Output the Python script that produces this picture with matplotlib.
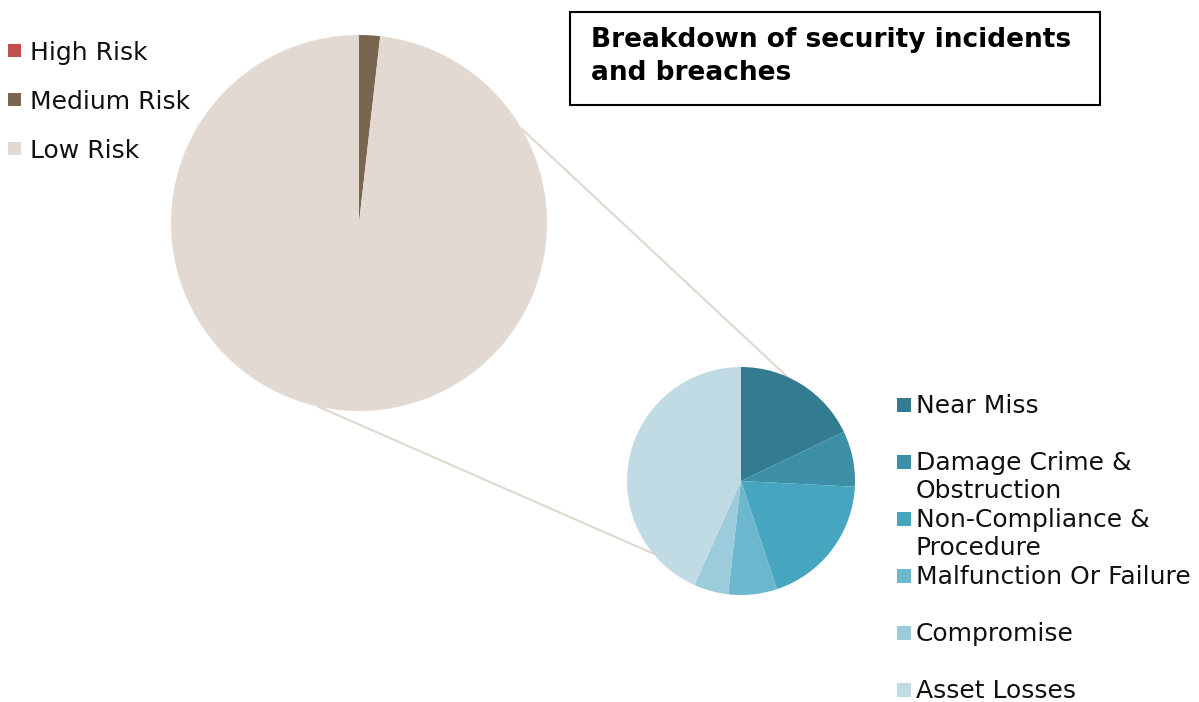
""" Breakdown of security incidents and breaches (pie of pie) """

import matplotlib
matplotlib.use('Agg')
import numpy as np
from matplotlib import pyplot as plt
from matplotlib.patches import ConnectionPatch, Rectangle

# Main pie data (percent).
risk_labels = ['High Risk', 'Medium Risk', 'Low Risk']
risk_values = [0.0, 1.8, 98.2]
risk_colors = ['#c0504d', '#7a6650', '#e2d9d3']

# Breakdown of the low risk portion (percent).
incident_labels = ['Near Miss', 'Damage Crime &\nObstruction', 'Non-Compliance &\nProcedure',
                   'Malfunction Or Failure', 'Compromise', 'Asset Losses']
incident_values = [17.9, 7.9, 19.1, 6.9, 4.9, 43.3]
incident_colors = ['#327b90', '#3c8fa6', '#46a6bf', '#6db7cf', '#9ccbdc', '#c1dbe5']

title_lines = ['Breakdown of security incidents', 'and breaches']

W, H = 1199, 702
fig = plt.figure(figsize=(W / 100, H / 100), dpi=100)
plt.rcParams['font.family'] = ['DejaVu Sans']


def fy(y):
    # pixel row from top -> figure fraction
    return 1 - y / H


def px_axes(cx, cy, r):
    # axes placed by pixel centre / radius (y measured from top)
    return fig.add_axes([(cx - r) / W, (H - cy - r) / H, 2 * r / W, 2 * r / H])


# Big pie.
ax1 = px_axes(359, 223, 188)
ax1.pie(risk_values, colors=risk_colors, startangle=90, counterclock=False,
        radius=1, wedgeprops=dict(linewidth=0))
ax1.set_xlim(-1, 1)
ax1.set_ylim(-1, 1)
ax1.set_aspect('equal')
ax1.axis('off')

# Small pie.
ax2 = px_axes(741, 481, 114)
ax2.pie(incident_values, colors=incident_colors, startangle=90, counterclock=False,
        radius=1, wedgeprops=dict(linewidth=0))
ax2.set_xlim(-1, 1)
ax2.set_ylim(-1, 1)
ax2.set_aspect('equal')
ax2.axis('off')

# Connector lines between the pies.
for a1, a2 in [(30, 66), (-102.6, -140.5)]:
    t1, t2 = np.radians(a1), np.radians(a2)
    con = ConnectionPatch(xyA=(np.cos(t1), np.sin(t1)), coordsA=ax1.transData,
                          xyB=(np.cos(t2), np.sin(t2)), coordsB=ax2.transData,
                          color='#e0d7cf', linewidth=1.5, zorder=-1)
    fig.add_artist(con)

# Title box.
fig.add_artist(Rectangle((570 / W, fy(105)), 530 / W, 93 / H, transform=fig.transFigure,
                         facecolor='white', edgecolor='black', linewidth=1.5))
for i, line in enumerate(title_lines):
    fig.text(591 / W, fy(47 + i * 33), line, fontsize=19, fontweight='bold',
             va='baseline', ha='left')

# Legend for the big pie.
for i, (lab, col) in enumerate(zip(risk_labels, risk_colors)):
    y = 60 + i * 49
    fig.add_artist(Rectangle((8 / W, fy(y - 3)), 13 / W, 13 / H,
                             transform=fig.transFigure, facecolor=col, edgecolor='none'))
    fig.text(30 / W, fy(y), lab, fontsize=18, va='baseline', ha='left', color='#111111')

# Legend for the small pie.
for i, (lab, col) in enumerate(zip(incident_labels, incident_colors)):
    y = 413 + i * 57
    fig.add_artist(Rectangle((897 / W, fy(y - 1)), 14 / W, 14 / H,
                             transform=fig.transFigure, facecolor=col, edgecolor='none'))
    for j, part in enumerate(lab.split('\n')):
        fig.text(916 / W, fy(y + j * 28), part, fontsize=18, va='baseline', ha='left',
                 color='#111111')

fig.savefig('out.png', dpi=100)
